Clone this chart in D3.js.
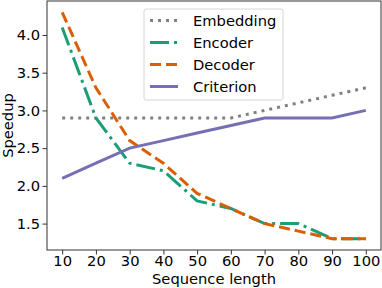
<!DOCTYPE html>
<html>
<head>
<meta charset="utf-8">
<script src="https://cdn.jsdelivr.net/npm/d3@7"></script>
<style>
  body { margin: 0; background: #fff; }
  svg { display: block; font-family: "DejaVu Sans", sans-serif; }
</style>
</head>
<body>
<svg id="chart" width="382" height="288"></svg>
<script>
// Chart data
const seqLengths = [10, 20, 30, 40, 50, 60, 70, 80, 90, 100];
const embedding = [2.9, 2.9, 2.9, 2.9, 2.9, 2.9, 3.0, 3.1, 3.2, 3.3];
const encoder = [4.1, 2.9, 2.3, 2.2, 1.8, 1.7, 1.5, 1.5, 1.3, 1.3];
const decoder = [4.3, 3.3, 2.6, 2.3, 1.9, 1.7, 1.5, 1.4, 1.3, 1.3];
const criterion = [2.1, 2.3, 2.5, 2.6, 2.7, 2.8, 2.9, 2.9, 2.9, 3.0];
const yTicks = [1.5, 2.0, 2.5, 3.0, 3.5, 4.0];

const series = [
    { name: 'Embedding', values: embedding, color: '#808080', dash: '3,5' },
    { name: 'Encoder', values: encoder, color: '#1b9e77', dash: '19,5,3,5' },
    { name: 'Decoder', values: decoder, color: '#d95f02', dash: '11,5' },
    { name: 'Criterion', values: criterion, color: '#7570b3', dash: null }
];

const fontSize = 14.7;
const svg = d3.select('#chart');
const margin = { left: 47, right: 381, top: 1, bottom: 250 };

const x = d3.scaleLinear().domain([5.5, 104.5]).range([margin.left, margin.right]);
const y = d3.scaleLinear().domain([1.15, 4.45]).range([margin.bottom, margin.top]);

// Lines
const line = d3.line()
    .x((d, i) => x(seqLengths[i]))
    .y(d => y(d));

series.forEach(s => {
    svg.append('path')
        .datum(s.values)
        .attr('d', line)
        .attr('fill', 'none')
        .attr('stroke', s.color)
        .attr('stroke-width', 3)
        .attr('stroke-dasharray', s.dash);
});

// Axes
const xAxis = svg.append('g')
    .attr('transform', `translate(0,${margin.bottom})`)
    .call(d3.axisBottom(x).tickValues(seqLengths).tickSize(4.5).tickPadding(1.5));

const yAxis = svg.append('g')
    .attr('transform', `translate(${margin.left},0)`)
    .call(d3.axisLeft(y).tickValues(yTicks).tickFormat(d3.format('.1f')).tickSize(4.5).tickPadding(2.5));

[xAxis, yAxis].forEach(a => {
    a.select('.domain').remove();
    a.selectAll('text').attr('font-size', fontSize).attr('fill', '#000').attr('font-family', 'DejaVu Sans');
    a.selectAll('line').attr('stroke', '#000').attr('stroke-width', 0.8);
});

// Frame
svg.append('rect')
    .attr('x', margin.left)
    .attr('y', margin.top)
    .attr('width', margin.right - margin.left)
    .attr('height', margin.bottom - margin.top)
    .attr('fill', 'none')
    .attr('stroke', '#333')
    .attr('stroke-width', 1);

// Axis labels
svg.append('text')
    .attr('x', (margin.left + margin.right) / 2)
    .attr('y', 284)
    .attr('text-anchor', 'middle')
    .attr('font-size', fontSize)
    .text('Sequence length');

svg.append('text')
    .attr('transform', `translate(13,${(margin.top + margin.bottom) / 2}) rotate(-90)`)
    .attr('text-anchor', 'middle')
    .attr('font-size', fontSize)
    .text('Speedup');

// Legend
const legend = svg.append('g').attr('transform', 'translate(144,9)');
legend.append('rect')
    .attr('width', 139)
    .attr('height', 91)
    .attr('rx', 2)
    .attr('fill', '#fff')
    .attr('fill-opacity', 0.8)
    .attr('stroke', '#ccc')
    .attr('stroke-width', 0.8);

series.forEach((s, i) => {
    const g = legend.append('g').attr('transform', `translate(0,${11.5 + i * 22})`);
    g.append('line')
        .attr('x1', 6).attr('x2', 34)
        .attr('stroke', s.color)
        .attr('stroke-width', 3)
        .attr('stroke-dasharray', s.dash);
    g.append('text')
        .attr('x', 49)
        .attr('dy', '0.35em')
        .attr('font-size', fontSize)
        .text(s.name);
});
</script>
</body>
</html>
